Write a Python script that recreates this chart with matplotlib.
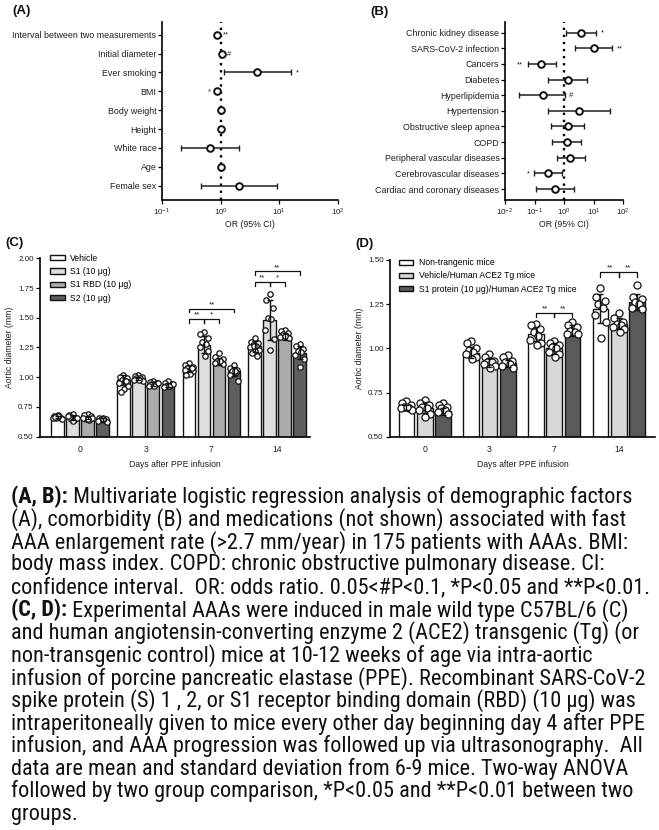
import matplotlib
matplotlib.use('Agg')
import matplotlib.pyplot as plt
from matplotlib import font_manager as fm
from matplotlib.patches import Patch
from matplotlib.text import Annotation
import numpy as np


def font_file(props):
    try:
        return fm.findfont(props, fallback_to_default=False)
    except Exception:
        return None


MAIN = 'Liberation Sans' if font_file(fm.FontProperties(family='Liberation Sans')) else 'DejaVu Sans'
NARROW, STRETCH = MAIN, 'normal'
for fam, st in [('Liberation Sans Narrow', 'normal'), ('Arial Narrow', 'normal'),
                ('Liberation Sans', 'condensed'), ('Roboto Condensed', 'normal')]:
    f = font_file(fm.FontProperties(family=fam, stretch=st))
    if f and ('Narrow' in f or 'Condensed' in f):
        NARROW, STRETCH = fam, st
        break
plt.rcParams['font.family'] = [MAIN, 'DejaVu Sans']

# ---------------- data: panel A ----------------
a_labels = ["Interval between two measurements", "Initial diameter", "Ever smoking",
            "BMI", "Body weight", "Height", "White race", "Age", "Female sex"]
a_or = [0.855, 1.05, 4.2, 0.86, 1.0, 1.02, 0.66, 1.0, 2.06]
a_lo = [0.80, 1.02, 1.14, 0.80, 0.98, 1.00, 0.21, 0.98, 0.46]
a_hi = [0.92, 1.08, 16.0, 0.92, 1.02, 1.04, 2.06, 1.02, 9.2]
a_sig = ["**", "#", "*", "*", "", "", "", "", ""]
a_sig_side = ["r", "r", "r", "l", "", "", "", "", ""]

# ---------------- data: panel B ----------------
b_labels = ["Chronic kidney disease", "SARS-CoV-2 infection", "Cancers", "Diabetes",
            "Hyperlipidemia", "Hypertension", "Obstructive sleep apnea", "COPD",
            "Peripheral vascular diseases", "Cerebrovascular diseases",
            "Cardiac and coronary diseases"]
b_or = [3.8, 10.3, 0.17, 1.35, 0.19, 3.2, 1.35, 1.3, 1.66, 0.29, 0.49]
b_lo = [1.2, 2.3, 0.059, 0.29, 0.029, 0.29, 0.35, 0.40, 0.56, 0.096, 0.11]
b_hi = [12.6, 43.0, 0.52, 6.1, 1.05, 35.0, 4.7, 3.8, 5.0, 0.87, 2.15]
b_sig = ["*", "**", "**", "", "#", "", "", "", "", "*", ""]
b_sig_side = ["r", "r", "l", "", "r", "", "", "", "", "l", ""]

# ---------------- data: panel C ----------------
days = ["0", "3", "7", "14"]
c_names = ["Vehicle", "S1 (10 μg)", "S1 RBD (10 μg)", "S2 (10 μg)"]
c_mean = [[0.665, 0.975, 1.075, 1.26],
          [0.66, 0.99, 1.275, 1.48],
          [0.66, 0.945, 1.135, 1.345],
          [0.645, 0.935, 1.05, 1.205]]
c_sd = [[0.01, 0.04, 0.03, 0.045],
        [0.02, 0.015, 0.07, 0.17],
        [0.015, 0.015, 0.03, 0.03],
        [0.01, 0.015, 0.04, 0.055]]
c_pts = [
    [[0.68, 0.67, 0.66, 0.655, 0.67, 0.66, 0.65, 0.675, 0.665],
     [1.02, 1.00, 0.99, 0.98, 0.97, 0.95, 0.93, 0.90, 0.88, 0.97],
     [1.12, 1.10, 1.09, 1.08, 1.07, 1.06, 1.05, 1.03, 1.02, 1.08],
     [1.33, 1.30, 1.29, 1.27, 1.26, 1.25, 1.23, 1.22, 1.20, 1.18, 1.26]],
    [[0.69, 0.68, 0.66, 0.65, 0.64, 0.67, 0.655, 0.63],
     [1.02, 1.01, 1.00, 0.99, 0.99, 0.98, 0.97, 0.98],
     [1.38, 1.36, 1.33, 1.30, 1.28, 1.25, 1.22, 1.18],
     [1.70, 1.65, 1.58, 1.50, 1.49, 1.40, 1.32, 1.23]],
    [[0.69, 0.68, 0.67, 0.65, 0.64, 0.66, 0.655, 0.645],
     [0.97, 0.96, 0.95, 0.94, 0.94, 0.93, 0.95, 0.93],
     [1.20, 1.17, 1.15, 1.14, 1.13, 1.12, 1.11, 1.14],
     [1.40, 1.39, 1.37, 1.36, 1.35, 1.34, 1.33, 1.35]],
    [[0.66, 0.655, 0.65, 0.645, 0.64, 0.635, 0.625, 0.65],
     [0.97, 0.95, 0.94, 0.93, 0.93, 0.92, 0.94, 0.93],
     [1.10, 1.08, 1.06, 1.05, 1.04, 1.02, 0.97, 1.05],
     [1.28, 1.26, 1.24, 1.22, 1.21, 1.19, 1.15, 1.09]],
]
c_colors = ['white', '#dedede', '#ababab', '#5e5e5e']

# ---------------- data: panel D ----------------
d_names = ["Non-trangenic mice", "Vehicle/Human ACE2 Tg mice",
           "S1 protein (10 μg)/Human ACE2 Tg mice"]
d_mean = [[0.665, 0.975, 1.08, 1.225],
          [0.665, 0.92, 1.00, 1.14],
          [0.645, 0.915, 1.10, 1.26]]
d_sd = [[0.015, 0.03, 0.04, 0.08],
        [0.03, 0.025, 0.03, 0.03],
        [0.02, 0.02, 0.03, 0.045]]
d_pts = [
    [[0.70, 0.69, 0.68, 0.67, 0.66, 0.66, 0.65, 0.67],
     [1.04, 1.03, 1.00, 0.99, 0.98, 0.97, 0.95, 0.94],
     [1.14, 1.13, 1.11, 1.09, 1.07, 1.05, 1.03, 1.02],
     [1.34, 1.29, 1.27, 1.25, 1.23, 1.19, 1.15, 1.06]],
    [[0.71, 0.69, 0.68, 0.67, 0.66, 0.65, 0.63, 0.61],
     [0.97, 0.95, 0.93, 0.92, 0.92, 0.91, 0.90, 0.89],
     [1.04, 1.03, 1.02, 1.01, 1.00, 0.98, 0.97, 0.95],
     [1.20, 1.17, 1.15, 1.14, 1.13, 1.12, 1.11, 1.09]],
    [[0.69, 0.68, 0.67, 0.66, 0.65, 0.64, 0.63],
     [0.96, 0.95, 0.93, 0.92, 0.91, 0.90, 0.89],
     [1.15, 1.13, 1.12, 1.10, 1.09, 1.08, 1.08],
     [1.36, 1.29, 1.28, 1.26, 1.25, 1.23, 1.22]],
]
d_colors = ['white', '#d8d8d8', '#5a5a5a']

caption = [
    ("(A, B):", " Multivariate logistic regression analysis of demographic factors"),
    ("", "(A), comorbidity (B) and medications (not shown) associated with fast"),
    ("", "AAA enlargement rate (>2.7 mm/year) in 175 patients with AAAs. BMI:"),
    ("", "body mass index. COPD: chronic obstructive pulmonary disease. CI:"),
    ("", "confidence interval.  OR: odds ratio. 0.05<#P<0.1, *P<0.05 and **P<0.01."),
    ("(C, D):", " Experimental AAAs were induced in male wild type C57BL/6 (C)"),
    ("", "and human angiotensin-converting enzyme 2 (ACE2) transgenic (Tg) (or"),
    ("", "non-transgenic control) mice at 10-12 weeks of age via intra-aortic"),
    ("", "infusion of porcine pancreatic elastase (PPE). Recombinant SARS-CoV-2"),
    ("", "spike protein (S) 1 , 2, or S1 receptor binding domain (RBD) (10 μg) was"),
    ("", "intraperitoneally given to mice every other day beginning day 4 after PPE"),
    ("", "infusion, and AAA progression was followed up via ultrasonography.  All"),
    ("", "data are mean and standard deviation from 6-9 mice. Two-way ANOVA"),
    ("", "followed by two group comparison, *P<0.05 and **P<0.01 between two"),
    ("", "groups."),
]

W, H = 659, 830
fig = plt.figure(figsize=(W / 100, H / 100), dpi=100)


def fbox(l, t, r, b):
    return [l / W, 1 - b / H, (r - l) / W, (b - t) / H]


TXT = '#1e1e1e'


def forest(ax, labels, orv, lo, hi, sig, side, xlim, ylim):
    n = len(labels)
    ys = np.arange(n)[::-1]
    ax.set_xscale('log')
    ax.axvline(1, color='k', ls=(0, (1, 2.0)), lw=1.7, zorder=1)
    err = [np.array(orv) - np.array(lo), np.array(hi) - np.array(orv)]
    ax.errorbar(orv, ys, xerr=err, fmt='none', ecolor='#202020', elinewidth=1.1,
                capsize=2.2, capthick=1.0, zorder=2)
    ax.plot(orv, ys, 'o', ms=4.8, mfc='white', mec='#111111', mew=1.4, zorder=3, ls='none')
    for i in range(n):
        if sig[i]:
            if side[i] == 'r':
                ax.annotate(sig[i], (hi[i], ys[i]), xytext=(3.2, -0.5), textcoords='offset points',
                            ha='left', va='center', fontsize=5.5, color=TXT)
            else:
                ax.annotate(sig[i], (lo[i], ys[i]), xytext=(-3.2, -0.5), textcoords='offset points',
                            ha='right', va='center', fontsize=5.5, color=TXT)
    ax.set_xlim(*xlim)
    ax.set_ylim(*ylim)
    ax.set_yticks(ys)
    ax.set_yticklabels(labels, fontsize=6.4, color=TXT)
    ax.tick_params(axis='y', length=3, width=0.9, pad=1)
    ax.tick_params(axis='x', which='major', length=3, width=0.9, labelsize=5.8, pad=2, labelcolor=TXT)
    ax.tick_params(axis='x', which='minor', length=0)
    ax.set_xlabel("OR (95% CI)", fontsize=6.3, labelpad=1, color=TXT)
    for s in ('top', 'right'):
        ax.spines[s].set_visible(False)
    for s in ('left', 'bottom'):
        ax.spines[s].set_linewidth(1.2)


axA = fig.add_axes(fbox(162, 22, 338, 200))
forest(axA, a_labels, a_or, a_lo, a_hi, a_sig, a_sig_side, (0.1, 100), (-0.76, 8.67))
axA.set_xticks([0.1, 1, 10, 100])

axB = fig.add_axes(fbox(505, 22, 623, 200))
forest(axB, b_labels, b_or, b_lo, b_hi, b_sig, b_sig_side, (0.01, 100), (-0.7, 10.68))
axB.set_xticks([0.01, 0.1, 1, 10, 100])


def bars(ax, names, means, sds, pts, colors, pitch, width, msize, ylim, yticks):
    n = len(names)
    xg = np.arange(len(days))
    offs_pattern = [0.0, -0.3, 0.3, -0.15, 0.15, -0.36, 0.36, 0.05, -0.22, 0.22, -0.05]
    for j in range(n):
        xs = xg + (j - (n - 1) / 2) * pitch
        ax.bar(xs, means[j], width=width, bottom=0, color=colors[j], edgecolor='#111111',
               linewidth=1.0, zorder=1)
        for k in range(len(days)):
            vals = pts[j][k]
            px = [xs[k] + offs_pattern[i % len(offs_pattern)] * width * 0.95 for i in range(len(vals))]
            ax.scatter(px, vals, s=msize, facecolor='white', edgecolor='#111111', linewidth=0.9, zorder=2)
        ax.errorbar(xs, means[j], yerr=sds[j], fmt='none', ecolor='#111111', elinewidth=1.0,
                    capsize=2.0, capthick=1.0, zorder=3)
    ax.set_ylim(*ylim)
    ax.set_yticks(yticks)
    ax.set_yticklabels([f"{v:.2f}" for v in yticks], fontsize=5.8, color=TXT)
    ax.set_xticks(xg)
    ax.set_xticklabels(days, fontsize=6.2, color=TXT)
    ax.tick_params(axis='x', length=0, pad=6)
    ax.tick_params(axis='y', length=3, width=0.9, pad=1.5)
    ax.set_xlabel("Days after PPE infusion", fontsize=6.2, labelpad=4, color=TXT)
    ax.set_ylabel("Aortic diameter (mm)", fontsize=6.2, labelpad=3, color=TXT)
    for s in ('top', 'right'):
        ax.spines[s].set_visible(False)
    for s in ('left', 'bottom'):
        ax.spines[s].set_linewidth(1.2)


def bracket(ax, x1, x2, y, drop, text):
    ax.plot([x1, x1, x2, x2], [y - drop, y, y, y - drop], color='#111111', lw=0.9, zorder=4)
    ax.text((x1 + x2) / 2, y + 0.004, text, ha='center', va='bottom', fontsize=5.8, color=TXT)


# panel C
pc, wc = 0.228, 0.19
axC = fig.add_axes(fbox(40, 258.3, 310, 436.7))
bars(axC, c_names, c_mean, c_sd, c_pts, c_colors, pc, wc, 15, (0.5, 2.0),
     [0.5, 0.75, 1.0, 1.25, 1.5, 1.75, 2.0])
axC.set_xlim(-0.61, 3.5)
cx = lambda k, j: k + (j - 1.5) * pc
bracket(axC, cx(2, 0), cx(2, 3), 1.575, 0.03, "**")
bracket(axC, cx(2, 0), cx(2, 1), 1.49, 0.03, "**")
bracket(axC, cx(2, 1), cx(2, 2), 1.49, 0.03, "*")
bracket(axC, cx(3, 0), cx(3, 3), 1.89, 0.03, "**")
bracket(axC, cx(3, 0), cx(3, 1), 1.80, 0.03, "**")
bracket(axC, cx(3, 1), cx(3, 2), 1.80, 0.03, "*")
hC = [Patch(facecolor=c, edgecolor='#111111', linewidth=1.0) for c in c_colors]
axC.legend(hC, c_names, loc='upper left', bbox_to_anchor=(0.025, 1.045), frameon=False,
           fontsize=6.2, handlelength=1.7, handleheight=0.55, labelspacing=0.5,
           handletextpad=0.6, borderaxespad=0)

# panel D
pd_, wd = 0.283, 0.243
axD = fig.add_axes(fbox(390, 260, 655, 436.7))
bars(axD, d_names, d_mean, d_sd, d_pts, d_colors, pd_, wd, 26, (0.5, 1.5),
     [0.5, 0.75, 1.0, 1.25, 1.5])
axD.set_xlim(-0.536, 3.56)
dx = lambda k, j: k + (j - 1) * pd_
bracket(axD, dx(2, 0), dx(2, 1), 1.20, 0.025, "**")
bracket(axD, dx(2, 1), dx(2, 2), 1.20, 0.025, "**")
bracket(axD, dx(3, 0), dx(3, 1), 1.43, 0.025, "**")
bracket(axD, dx(3, 1), dx(3, 2), 1.43, 0.025, "**")
hD = [Patch(facecolor=c, edgecolor='#111111', linewidth=1.0) for c in d_colors]
axD.legend(hD, d_names, loc='upper left', bbox_to_anchor=(0.02, 1.03), frameon=False,
           fontsize=6.2, handlelength=1.7, handleheight=0.55, labelspacing=0.5,
           handletextpad=0.6, borderaxespad=0)

# panel letters
for lab, x, y in [("(A)", 12, 11), ("(B)", 370, 12), ("(C)", 5, 243), ("(D)", 355, 244)]:
    fig.text(x / W, 1 - y / H, lab, fontsize=9.5, fontweight='bold', ha='left', va='center',
             color='#111111')

# caption: one font size, chosen so the widest line fits the caption width
fs0 = 12.0
fig.canvas.draw()
r = fig.canvas.get_renderer()
maxw = 0
for bold, rest in caption:
    w = 0
    if bold:
        t = fig.text(0, 0, bold, fontsize=fs0, family=NARROW, stretch=STRETCH, fontweight='bold')
        w += t.get_window_extent(r).width
        t.remove()
    t = fig.text(0, 0, rest, fontsize=fs0, family=NARROW, stretch=STRETCH)
    w += t.get_window_extent(r).width
    t.remove()
    maxw = max(maxw, w)
fs = fs0 * (638.0 / maxw)

y0, dy = 497.0, 22.65
x0 = 11.0
for i, (bold, rest) in enumerate(caption):
    y = 1 - (y0 + i * dy) / H
    if bold:
        tb = fig.text(x0 / W, y, bold, fontsize=fs, family=NARROW, stretch=STRETCH,
                      fontweight='bold', ha='left', va='center', color='#111111')
        fig.add_artist(Annotation(rest, xy=(1, 0.5), xycoords=tb, ha='left', va='center',
                                  fontsize=fs, family=NARROW, stretch=STRETCH, color='#111111'))
    else:
        fig.text(x0 / W, y, rest, fontsize=fs, family=NARROW, stretch=STRETCH,
                 ha='left', va='center', color='#111111')

fig.savefig('out.png', dpi=100, facecolor='white')
